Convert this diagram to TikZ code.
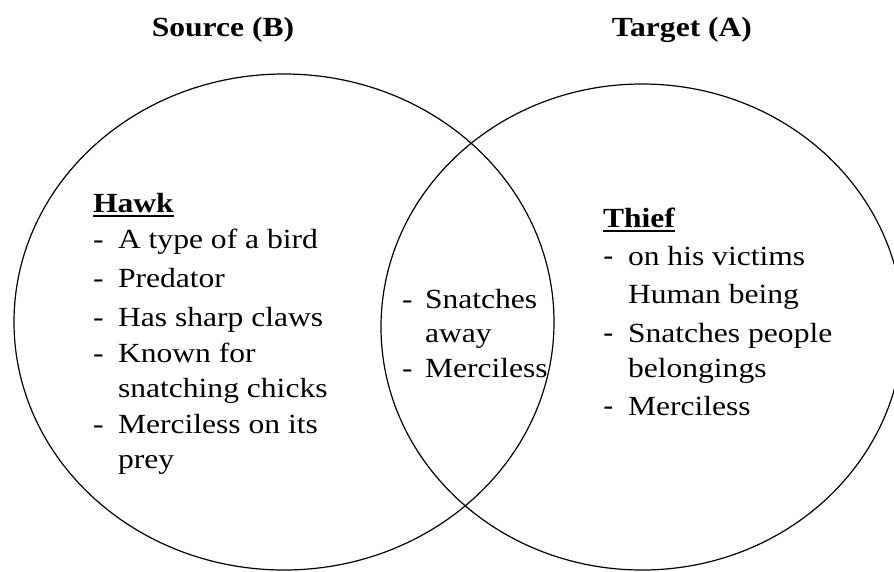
\documentclass[tikz,border=0pt]{standalone}
\usepackage{fontspec}
\setmainfont{Liberation Serif}[FakeStretch=1.14]
\newfontfamily\dashfont{Liberation Sans}[FakeStretch=1.14]
\begin{document}
\begin{tikzpicture}[x=1pt,y=-1pt,
  every node/.style={inner sep=0pt, outer sep=0pt},
  txt/.style={anchor=base west, font=\fontsize{27.7}{33}\selectfont},
  head/.style={anchor=base west, font=\fontsize{27.7}{33}\selectfont\bfseries},
  ttl/.style={anchor=base, font=\fontsize{27.7}{33}\selectfont\bfseries},
  rdash/.style={anchor=base west, font=\fontsize{27.7}{33}\selectfont\dashfont},
  ring/.style={draw=black, line width=1.2pt},
  uline/.style={line width=2.6pt}]
\useasboundingbox (0,0) rectangle (894,571);

% the two overlapping sets
\draw[ring] (284,322) ellipse [x radius=270, y radius=248];
\draw[ring] (642,327) ellipse [x radius=261, y radius=243];

% set titles
\node[ttl] (src) at (223,36) {Source (B)};
\node[ttl] (tgt) at (682,36) {Target (A)};

% source set: hawk
\node[head] (hawk) at (93,212) {Hawk};
\draw[uline] ([yshift=-4pt]hawk.base west) -- ([yshift=-4pt]hawk.base east);
\node[txt] (d1) at (93,248) {-};  \node[txt] (h1) at (118,248) {A type of a bird};
\node[txt] (d2) at (93,287) {-};  \node[txt] (h2) at (118,287) {Predator};
\node[txt] (d3) at (93,326) {-};  \node[txt] (h3) at (118,326) {Has sharp claws};
\node[txt] (d4) at (93,362) {-};  \node[txt] (h4) at (118,362) {Known for};
\node[txt] (h4b) at (118,397) {snatching chicks};
\node[txt] (d5) at (93,433) {-};  \node[txt] (h5) at (118,433) {Merciless on its};
\node[txt] (h5b) at (118,468) {prey};

% shared features
\node[txt] (m1d) at (402,308) {-}; \node[txt] (m1) at (425,308) {Snatches};
\node[txt] (m1b) at (425,342) {away};
\node[txt] (m2d) at (402,377) {-}; \node[txt] (m2) at (425,377) {Merciless};

% target set: thief
\node[head] (thief) at (603,227) {Thief};
\draw[uline] ([yshift=-4pt]thief.base west) -- ([yshift=-4pt]thief.base east);
\node[rdash] (t1d) at (603,265) {-}; \node[txt] (t1) at (628,265) {on his victims};
\node[txt] (t1b) at (628,303) {Human being};
\node[rdash] (t2d) at (603,342) {-}; \node[txt] (t2) at (628,342) {Snatches people};
\node[txt] (t2b) at (628,377) {belongings};
\node[rdash] (t3d) at (603,415) {-}; \node[txt] (t3) at (628,415) {Merciless};
\end{tikzpicture}
\end{document}
